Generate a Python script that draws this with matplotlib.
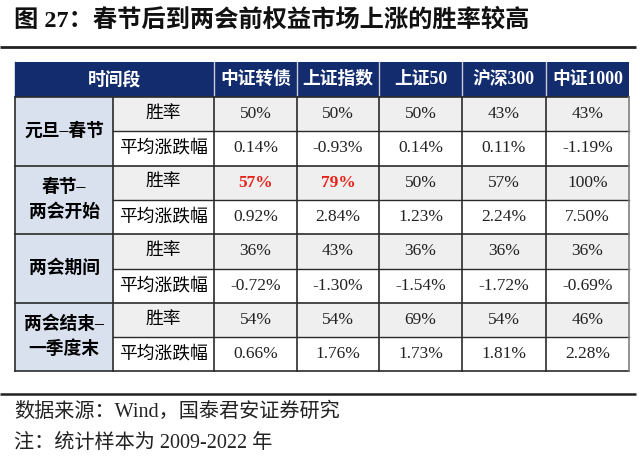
import matplotlib
matplotlib.use("Agg")
import matplotlib.pyplot as plt
from matplotlib.patches import Rectangle

plt.rcParams['font.family'] = ['Liberation Serif', 'Noto Sans CJK SC', 'DejaVu Sans']

title = "图 27：春节后到两会前权益市场上涨的胜率较高"
header_first = "时间段"
indices = ["中证转债", "上证指数", "上证50", "沪深300", "中证1000"]
periods = ["元旦–春节", "春节–\n两会开始", "两会期间", "两会结束–\n一季度末"]
metrics = ["胜率", "平均涨跌幅"]
win_rates = [
    ["50%", "50%", "50%", "43%", "43%"],
    ["57%", "79%", "50%", "57%", "100%"],
    ["36%", "43%", "36%", "36%", "36%"],
    ["54%", "54%", "69%", "54%", "46%"],
]
avg_returns = [
    ["0.14%", "-0.93%", "0.14%", "0.11%", "-1.19%"],
    ["0.92%", "2.84%", "1.23%", "2.24%", "7.50%"],
    ["-0.72%", "-1.30%", "-1.54%", "-1.72%", "-0.69%"],
    ["0.66%", "1.76%", "1.73%", "1.81%", "2.28%"],
]
highlight = [(1, 0), (1, 1)]  # (period, index) shown in red bold
source = "数据来源：Wind，国泰君安证券研究"
note = "注：统计样本为 2009-2022 年"

W, H = 640, 466
fig = plt.figure(figsize=(W / 100, H / 100), dpi=100)
ax = fig.add_axes([0, 0, 1, 1])
ax.set_xlim(0, W)
ax.set_ylim(H, 0)
ax.axis('off')

NAVY = "#132C6E"
LIGHTBLUE = "#D9E0EE"
GRAY = "#EFEFEF"
WHITE = "#FFFFFF"
LINE = "#2B2B2B"
RED = "#E8221B"

# title
ax.text(14, 20, title, fontsize=17.5, fontweight='bold', va='center', ha='left', color='#111111')
ax.plot([0, 636], [47, 47], color='#222222', lw=2.0, solid_capstyle='butt')

xs = [15, 113, 214, 297, 379, 462, 546, 629]
y0 = 62
hh = 35
rh = 34.3
ys = [y0, y0 + hh] + [y0 + hh + rh * (i + 1) for i in range(8)]

FS_CJK = 12.8
FS_NUM = 12.5

# header
ax.add_patch(Rectangle((xs[0], ys[0]), xs[-1] - xs[0], hh, facecolor=NAVY, edgecolor='none'))
ax.text((xs[0] + xs[2]) / 2, ys[0] + hh / 2, header_first, color='white', fontsize=FS_CJK,
        fontweight='bold', ha='center', va='center')
for j, name in enumerate(indices):
    ax.text((xs[j + 2] + xs[j + 3]) / 2, ys[0] + hh / 2, name, color='white', fontsize=FS_CJK,
            fontweight='bold', ha='center', va='center')
for j in range(2, 7):
    ax.plot([xs[j], xs[j]], [ys[0], ys[1]], color='#C8CCD8', lw=1.0)

# body
for p in range(4):
    top = ys[1] + 2 * p * rh
    ax.add_patch(Rectangle((xs[0], top), xs[1] - xs[0], 2 * rh, facecolor=LIGHTBLUE, edgecolor='none'))
    ax.text((xs[0] + xs[1]) / 2, top + rh, periods[p], fontsize=FS_CJK, fontweight='bold',
            ha='center', va='center', linespacing=1.55)
    for m in range(2):
        rt = top + m * rh
        bg = GRAY if m == 0 else WHITE
        ax.add_patch(Rectangle((xs[1], rt), xs[-1] - xs[1], rh, facecolor=bg, edgecolor='none'))
        ax.text((xs[1] + xs[2]) / 2, rt + rh / 2, metrics[m], fontsize=FS_CJK,
                ha='center', va='center')
        vals = win_rates[p] if m == 0 else avg_returns[p]
        for j, v in enumerate(vals):
            hl = (m == 0 and (p, j) in highlight)
            ax.text((xs[j + 2] + xs[j + 3]) / 2, rt + rh / 2, v, fontsize=FS_NUM,
                    ha='center', va='center', color=RED if hl else '#222222',
                    fontweight='bold' if hl else 'normal')

# grid lines
bottom = ys[-1]
for k, y in enumerate(ys[1:]):
    if k % 2 == 1 and k < 8:
        ax.plot([xs[1], xs[-1]], [y, y], color=LINE, lw=1.0)
    else:
        ax.plot([xs[0], xs[-1]], [y, y], color=LINE, lw=1.2)
for j, x in enumerate(xs):
    col = '#7F7F7F' if j == len(xs) - 1 else LINE
    ax.plot([x, x], [ys[1], bottom], color=col, lw=1.2)
ax.plot([xs[0], xs[0]], [ys[0], ys[1]], color=NAVY, lw=1.0)

# footer
ax.plot([0, 636], [394, 394], color='#222222', lw=1.8, solid_capstyle='butt')
ax.text(14, 412, source, fontsize=14.5, ha='left', va='center', color='#222222')
ax.text(14, 444, note, fontsize=14.5, ha='left', va='center', color='#222222')

fig.savefig("out.png", dpi=100)
